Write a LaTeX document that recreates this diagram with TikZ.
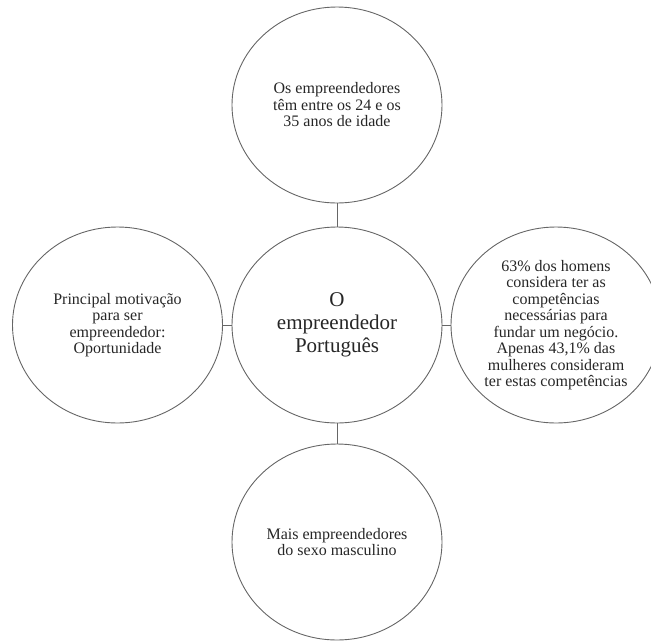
\documentclass[tikz,border=0pt]{standalone}
\usepackage{fontspec}
\setmainfont{Liberation Serif}
\usetikzlibrary{shapes.geometric}
\tikzset{
  bubble/.style={ellipse, draw=black!60, line width=0.9pt, minimum width=210pt, minimum height=196pt, inner sep=0pt, align=center, text=black!85, font=\fontsize{16}{16.5}\selectfont},
  hub/.style={bubble, font=\fontsize{21}{23}\selectfont},
  link/.style={draw=black!60, line width=0.9pt}
}
\begin{document}
\begin{tikzpicture}[x=1pt,y=-1pt]
\useasboundingbox (0,0) rectangle (651,641);
\node[hub] (ctr) at (337,325) {O\\empreendedor\\Português};
\node[bubble] (top) at (337,105) {Os empreendedores\\têm entre os 24 e os\\35 anos de idade};
\node[bubble] (left) at (117.5,325) {Principal motivação\\para ser\\empreendedor:\\Oportunidade};
\node[bubble] (right) at (556,325) {63\% dos homens\\considera ter as\\competências\\necessárias para\\fundar um negócio.\\Apenas 43,1\% das\\mulheres consideram\\ter estas competências};
\node[bubble] (bot) at (337,542) {Mais empreendedores\\do sexo masculino};
\draw[link] (top) -- (ctr);
\draw[link] (ctr) -- (bot);
\draw[link] (left) -- (ctr);
\draw[link] (ctr) -- (right);
\end{tikzpicture}
\end{document}
